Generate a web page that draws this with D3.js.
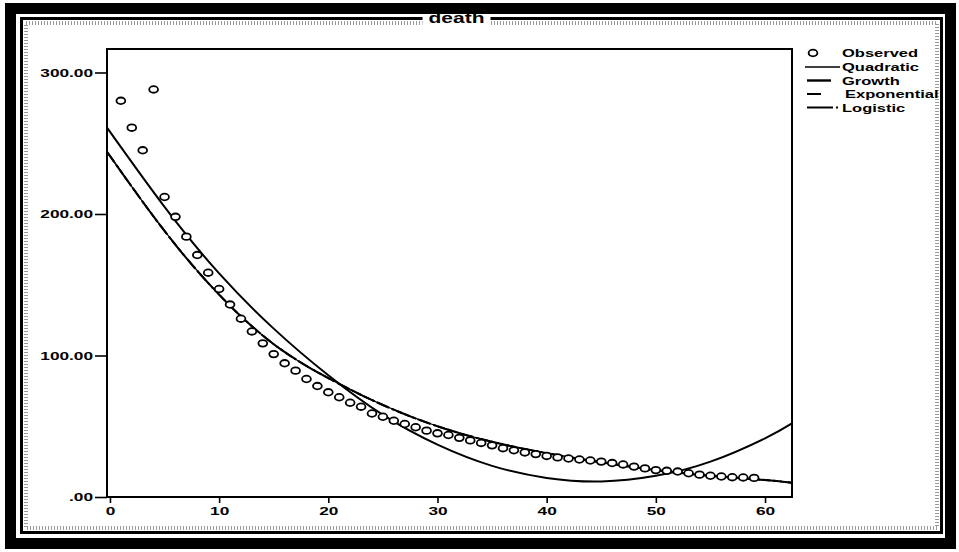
<!DOCTYPE html>
<html>
<head>
<meta charset="utf-8">
<script src="https://cdn.jsdelivr.net/npm/d3@7"></script>
<style>
  body { margin: 0; background: #fff; }
  svg { display: block; }
  text { font-family: "Liberation Sans", Arial, sans-serif; font-weight: bold; fill: #000; }
</style>
</head>
<body>
<svg id="chart" width="959" height="552"></svg>
<script>
// observed deaths, t = 1..59
const observed = [
  280, 261, 245, 288, 212, 198, 184, 171, 158.5, 147,
  136, 126, 117, 108.6, 101, 94.5, 89.3, 83.4, 78.4, 74,
  70.5, 66.6, 63.8, 59, 56.7, 53.9, 51.6, 49.3, 46.9, 45,
  43.8, 41.8, 40, 38.2, 36.5, 34.5, 33, 31.5, 30.3, 29,
  28, 27.2, 26.5, 25.8, 25, 24, 23, 21.5, 20.2, 19,
  18.5, 18, 16.8, 15.8, 15, 14.5, 14, 13.8, 13.5
];

// fitted curves at these t values
const fitX = [-0.27, 5, 10, 15, 20, 25, 30, 35, 40, 45, 50, 55, 60, 62.47];
const quadratic = [261, 205, 158, 119, 86, 58, 37, 22, 13.5, 11, 15, 25, 41.5, 52];
const growth = [244, 188, 143, 108, 84, 65, 50, 39, 31, 24.5, 19, 15, 12, 10];
const exponential = growth.slice();
const logistic = growth.slice();

const xTicks = [0, 10, 20, 30, 40, 50, 60];
const yTicks = [0, 100, 200, 300];
const yTickLabels = [".00", "100.00", "200.00", "300.00"];
const legendNames = ["Observed", "Quadratic", "Growth", "Exponential", "Logistic"];

const SX = 1.5; // scanned text is stretched sideways

const svg = d3.select("#chart");

// scanned page frame
svg.append("rect").attr("x", 10.5).attr("y", 8.5).attr("width", 940).attr("height", 535)
  .attr("fill", "none").attr("stroke", "#000").attr("stroke-width", 11);
svg.append("rect").attr("x", 21.5).attr("y", 18.5).attr("width", 920).attr("height", 514)
  .attr("fill", "none").attr("stroke", "#000").attr("stroke-width", 3);
svg.append("rect").attr("x", 26).attr("y", 23).attr("width", 911).attr("height", 505)
  .attr("fill", "none").attr("stroke", "#9a9a9a").attr("stroke-width", 4)
  .attr("stroke-dasharray", "1,2");

const plot = { left: 107, top: 49, right: 792, bottom: 497 };

const x = d3.scaleLinear().domain([-0.27, 62.47]).range([plot.left, plot.right]);
const y = d3.scaleLinear().domain([0, 316.6]).range([plot.bottom, plot.top]);

// title sits over the frame, on a white patch
const titleX = (plot.left + plot.right) / 2 + 7;
svg.append("rect").attr("x", titleX - 34).attr("y", 14).attr("width", 68).attr("height", 12)
  .attr("fill", "#fff");
svg.append("text")
  .attr("transform", `translate(${titleX},23) scale(${SX},1)`)
  .attr("text-anchor", "middle").attr("font-size", 14)
  .text("death");

// axes
const yAxis = d3.axisLeft(y).tickValues(yTicks)
  .tickFormat((d, i) => yTickLabels[i]).tickSize(12).tickSizeOuter(0);
const gy = svg.append("g").attr("transform", `translate(${plot.left},0)`).call(yAxis);
gy.select(".domain").remove();
gy.selectAll(".tick line").attr("stroke", "#000").attr("stroke-width", 1.6);
gy.selectAll(".tick text")
  .attr("font-size", 11.5).attr("font-family", null)
  .attr("x", -14 / SX).attr("transform", `scale(${SX},1)`);

const xAxis = d3.axisBottom(x).tickValues(xTicks).tickSize(6).tickSizeOuter(0);
const gx = svg.append("g").attr("transform", `translate(0,${plot.bottom})`).call(xAxis);
gx.select(".domain").remove();
gx.selectAll(".tick line").attr("stroke", "#000").attr("stroke-width", 1.6);
gx.selectAll(".tick text")
  .attr("font-size", 11.5).attr("font-family", null)
  .attr("y", 10).attr("transform", `scale(${SX},1)`);

// plot frame
svg.append("rect")
  .attr("x", plot.left).attr("y", plot.top)
  .attr("width", plot.right - plot.left).attr("height", plot.bottom - plot.top)
  .attr("fill", "none").attr("stroke", "#000").attr("stroke-width", 2);

// fitted lines
const line = d3.line().x(d => x(d[0])).y(d => y(d[1])).curve(d3.curveNatural);
const fits = [
  { vals: quadratic, width: 2, dash: null },
  { vals: growth, width: 1.2, dash: null },
  { vals: exponential, width: 2, dash: "12,3" },
  { vals: logistic, width: 2, dash: "14,3,2,3" },
];
svg.append("g").selectAll("path").data(fits).join("path")
  .attr("d", f => line(fitX.map((t, i) => [t, f.vals[i]])))
  .attr("fill", "none").attr("stroke", "#000")
  .attr("stroke-width", f => f.width)
  .attr("stroke-dasharray", f => f.dash);

// observed points
svg.append("g").selectAll("ellipse").data(observed).join("ellipse")
  .attr("cx", (d, i) => x(i + 1)).attr("cy", d => y(d))
  .attr("rx", 4.4).attr("ry", 3.3)
  .attr("fill", "#fff").attr("stroke", "#000").attr("stroke-width", 1.8);

// legend
const legY = [53, 67, 80.5, 94, 107.5];
const leg = svg.append("g");
leg.append("ellipse").attr("cx", 813).attr("cy", legY[0])
  .attr("rx", 4.4).attr("ry", 3.3).attr("fill", "#fff")
  .attr("stroke", "#000").attr("stroke-width", 1.8);
const legLines = [
  null,
  { x1: 805, x2: 840, w: 1.6, dash: null },
  { x1: 807, x2: 831, w: 2.4, dash: null },
  { x1: 807, x2: 821, w: 2, dash: null },
  { x1: 807, x2: 840, w: 1.8, dash: "26,3,2,9" },
];
legLines.forEach((l, i) => {
  if (!l) return;
  leg.append("line").attr("x1", l.x1).attr("x2", l.x2)
    .attr("y1", legY[i]).attr("y2", legY[i])
    .attr("stroke", "#000").attr("stroke-width", l.w)
    .attr("stroke-dasharray", l.dash);
});
leg.selectAll("text").data(legendNames).join("text")
  .attr("transform", (d, i) => `translate(${i === 3 ? 845 : 842},${legY[i] + 4}) scale(${SX},1)`)
  .attr("font-size", 11)
  .text(d => d);
</script>
</body>
</html>
